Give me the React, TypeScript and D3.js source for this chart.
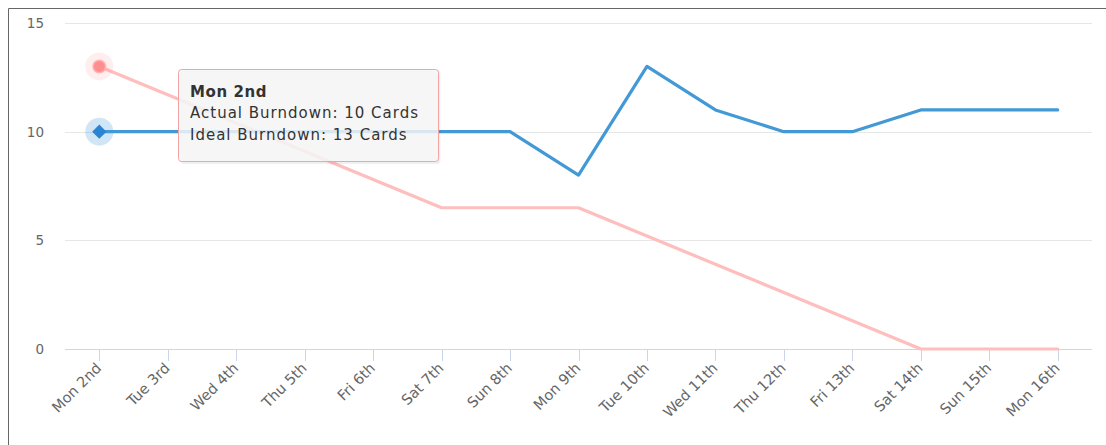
import React from "react";
import * as d3 from "d3";

const categories = ["Mon 2nd","Tue 3rd","Wed 4th","Thu 5th","Fri 6th","Sat 7th","Sun 8th","Mon 9th","Tue 10th","Wed 11th","Thu 12th","Fri 13th","Sat 14th","Sun 15th","Mon 16th"];
const actualBurndown = [10,10,10,10,10,10,10,8,13,11,10,10,11,11,11];
const idealBurndown = [13,11.7,10.4,9.1,7.8,6.5,6.5,6.5,5.2,3.9,2.6,1.3,0,0,0];
const yTicks = [0,5,10,15];
const tooltipTitle = "Mon 2nd";
const tooltipLines = ["Actual Burndown: 10 Cards","Ideal Burndown: 13 Cards"];

const W = 1106, H = 445;
const FONT = "'DejaVu Sans', Verdana, sans-serif";

export default function App() {
  const x = d3.scalePoint<string>().domain(categories).range([99.3, 1057.7]);
  const y = d3.scaleLinear().domain([0, 15]).range([349, 23]);
  const line = d3.line<number>().x((_, i) => x(categories[i])!).y(d => y(d));
  const blue = "#4299d6";
  const pink = "#ffbebe";
  const x0 = x(categories[0])!;
  return (
    <svg width={W} height={H} style={{ position: "absolute", left: 0, top: 0, display: "block" }}>
      <rect x={0} y={0} width={W} height={H} fill="#fff" />
      <path d={`M8.5,${H} V8.5 H${W}`} fill="none" stroke="#666" strokeWidth={1} />
      {yTicks.map(t => (
        <g key={t}>
          {t !== 0 && <line x1={65} x2={1092} y1={Math.round(y(t)) + 0.5} y2={Math.round(y(t)) + 0.5} stroke="#e6e6e6" />}
          <text x={44} y={y(t) + 5} textAnchor="end" fontFamily={FONT} fontSize={13.5} fill="#666">{t}</text>
        </g>
      ))}
      <line x1={65} x2={1092} y1={349.5} y2={349.5} stroke="#ccd6eb" />
      {categories.map(c => (
        <g key={c}>
          <line x1={Math.round(x(c)!) + 0.5} x2={Math.round(x(c)!) + 0.5} y1={349} y2={361} stroke="#ccd6eb" />
          <text transform={`translate(${x(c)! + 3},${369}) rotate(-45)`} textAnchor="end" fontFamily={FONT} fontSize={14.5} fill="#666">{c}</text>
        </g>
      ))}
      <path d={line(idealBurndown)!} fill="none" stroke={pink} strokeWidth={3.2} strokeLinejoin="round" strokeLinecap="round" />
      <path d={line(actualBurndown)!} fill="none" stroke={blue} strokeWidth={3.2} strokeLinejoin="round" strokeLinecap="round" />
      <circle cx={x0} cy={y(idealBurndown[0])} r={14} fill="rgba(255,120,120,0.13)" />
      <circle cx={x0} cy={y(idealBurndown[0])} r={7} fill="#ffb3b3" />
      <circle cx={x0} cy={y(idealBurndown[0])} r={5.5} fill="#ff8f8f" />
      <circle cx={x0} cy={y(actualBurndown[0])} r={14} fill="rgba(66,153,214,0.25)" />
      <path d={d3.symbol(d3.symbolDiamond2, 130)()!} transform={`translate(${x0},${y(actualBurndown[0])})`} fill="#2a84d2" />
      <g>
        <rect x={180.5} y={71} width={260} height={93} rx={3} fill="rgba(0,0,0,0.06)" />
        <rect x={178.5} y={69.5} width={260} height={92} rx={3} fill="rgba(247,247,247,0.85)" stroke="#f2a3a3" strokeWidth={1} />
        <text x={190} y={97} fontFamily={FONT} fontSize={15} fontWeight="bold" fill="#333" letterSpacing={0.6}>{tooltipTitle}</text>
        {tooltipLines.map((l, i) => (
          <text key={l} x={190} y={118 + i * 21.5} fontFamily={FONT} fontSize={15} fill="#333" letterSpacing={1}>{l}</text>
        ))}
      </g>
    </svg>
  );
}
